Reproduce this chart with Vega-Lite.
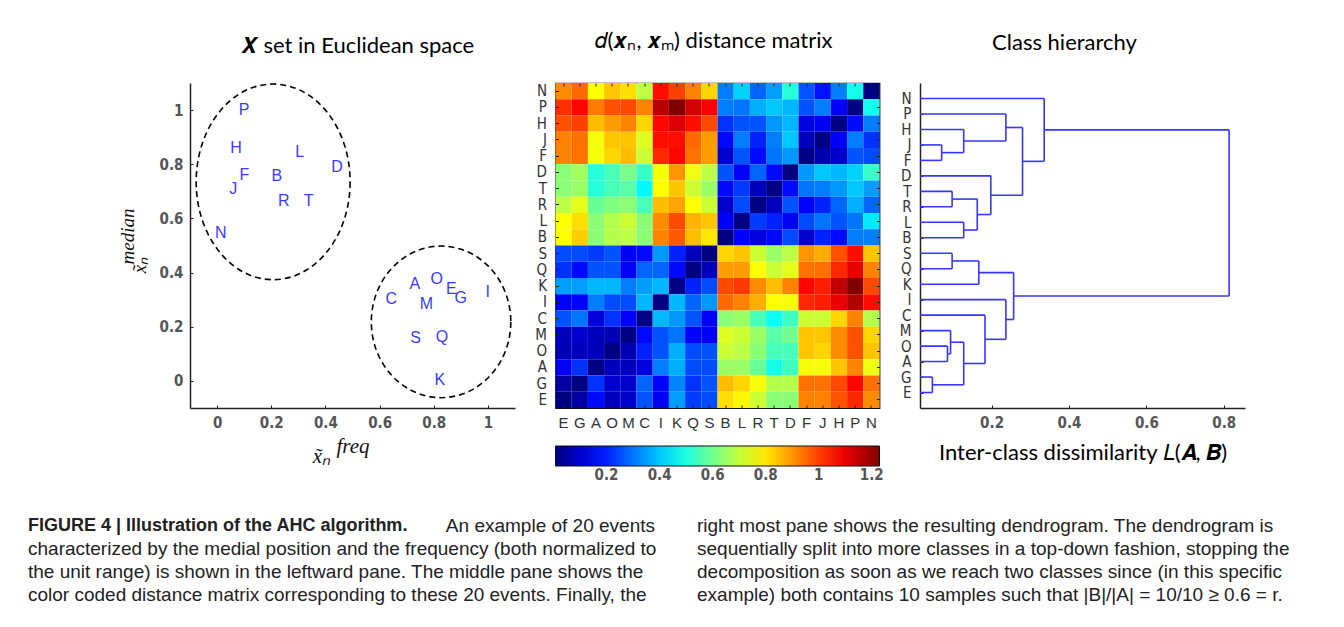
{
"$schema": "https://vega.github.io/schema/vega-lite/v6.json",
"background": "white",
"padding": {"left": 28, "top": 28, "right": 0, "bottom": 0},
"config": {
  "view": {"stroke": null},
  "font": "Liberation Sans",
  "axis": {"grid": false, "domainColor": "#222", "domainWidth": 1.5, "tickColor": "#222", "tickSize": -3, "labelFont": "DejaVu Sans Condensed, sans-serif", "labelFontSize": 15, "labelFontWeight": "bold", "labelColor": "#555", "titleFontWeight": "normal", "titleColor": "#111"},
  "title": {"font": "Lato", "fontSize": 22, "fontWeight": "normal", "color": "#000", "anchor": "middle", "baseline": "alphabetic", "offset": 28}
},
"datasets": {
  "points": [
    {"label": "P", "fx": 0.10, "fy": 1.0},
    {"label": "H", "fx": 0.07, "fy": 0.86},
    {"label": "L", "fx": 0.305, "fy": 0.845},
    {"label": "D", "fx": 0.443, "fy": 0.789},
    {"label": "F", "fx": 0.101, "fy": 0.762},
    {"label": "B", "fx": 0.221, "fy": 0.758},
    {"label": "J", "fx": 0.06, "fy": 0.709},
    {"label": "R", "fx": 0.246, "fy": 0.663},
    {"label": "T", "fx": 0.338, "fy": 0.663},
    {"label": "N", "fx": 0.014, "fy": 0.548},
    {"label": "A", "fx": 0.73, "fy": 0.357},
    {"label": "O", "fx": 0.811, "fy": 0.378},
    {"label": "E", "fx": 0.865, "fy": 0.338},
    {"label": "G", "fx": 0.9, "fy": 0.307},
    {"label": "I", "fx": 0.999, "fy": 0.328},
    {"label": "C", "fx": 0.643, "fy": 0.301},
    {"label": "M", "fx": 0.773, "fy": 0.285},
    {"label": "S", "fx": 0.733, "fy": 0.159},
    {"label": "Q", "fx": 0.83, "fy": 0.162},
    {"label": "K", "fx": 0.822, "fy": 0.005}
  ],
  "clusters": [
    {"cluster": 1, "cx": 0.207, "cy": 0.735},
    {"cluster": 2, "cx": 0.827, "cy": 0.218}
  ],
  "matrix": [
{"r":"N","c":"E","v":0.91},{"r":"N","c":"G","v":0.95},{"r":"N","c":"A","v":0.77},{"r":"N","c":"O","v":0.84},{"r":"N","c":"M","v":0.81},{"r":"N","c":"C","v":0.69},{"r":"N","c":"I","v":1.06},{"r":"N","c":"K","v":1.0},{"r":"N","c":"Q","v":0.92},{"r":"N","c":"S","v":0.82},{"r":"N","c":"B","v":0.31},{"r":"N","c":"L","v":0.41},{"r":"N","c":"R","v":0.28},{"r":"N","c":"T","v":0.35},{"r":"N","c":"D","v":0.51},{"r":"N","c":"F","v":0.26},{"r":"N","c":"J","v":0.18},{"r":"N","c":"H","v":0.31},{"r":"N","c":"P","v":0.49},{"r":"N","c":"N","v":0.01},
{"r":"P","c":"E","v":1.02},{"r":"P","c":"G","v":1.07},{"r":"P","c":"A","v":0.93},{"r":"P","c":"O","v":0.98},{"r":"P","c":"M","v":0.99},{"r":"P","c":"C","v":0.92},{"r":"P","c":"I","v":1.16},{"r":"P","c":"K","v":1.23},{"r":"P","c":"Q","v":1.13},{"r":"P","c":"S","v":1.08},{"r":"P","c":"B","v":0.31},{"r":"P","c":"L","v":0.3},{"r":"P","c":"R","v":0.37},{"r":"P","c":"T","v":0.4},{"r":"P","c":"D","v":0.38},{"r":"P","c":"F","v":0.26},{"r":"P","c":"J","v":0.31},{"r":"P","c":"H","v":0.15},{"r":"P","c":"P","v":0.01},{"r":"P","c":"N","v":0.49},
{"r":"H","c":"E","v":0.98},{"r":"H","c":"G","v":1.0},{"r":"H","c":"A","v":0.85},{"r":"H","c":"O","v":0.89},{"r":"H","c":"M","v":0.92},{"r":"H","c":"C","v":0.82},{"r":"H","c":"I","v":1.07},{"r":"H","c":"K","v":1.12},{"r":"H","c":"Q","v":1.06},{"r":"H","c":"S","v":0.99},{"r":"H","c":"B","v":0.22},{"r":"H","c":"L","v":0.26},{"r":"H","c":"R","v":0.26},{"r":"H","c":"T","v":0.34},{"r":"H","c":"D","v":0.38},{"r":"H","c":"F","v":0.12},{"r":"H","c":"J","v":0.15},{"r":"H","c":"H","v":0.01},{"r":"H","c":"P","v":0.17},{"r":"H","c":"N","v":0.31},
{"r":"J","c":"E","v":0.92},{"r":"J","c":"G","v":0.94},{"r":"J","c":"A","v":0.76},{"r":"J","c":"O","v":0.84},{"r":"J","c":"M","v":0.84},{"r":"J","c":"C","v":0.73},{"r":"J","c":"I","v":1.06},{"r":"J","c":"K","v":1.06},{"r":"J","c":"Q","v":0.95},{"r":"J","c":"S","v":0.89},{"r":"J","c":"B","v":0.17},{"r":"J","c":"L","v":0.31},{"r":"J","c":"R","v":0.2},{"r":"J","c":"T","v":0.31},{"r":"J","c":"D","v":0.4},{"r":"J","c":"F","v":0.08},{"r":"J","c":"J","v":0.01},{"r":"J","c":"H","v":0.16},{"r":"J","c":"P","v":0.31},{"r":"J","c":"N","v":0.22},
{"r":"F","c":"E","v":0.92},{"r":"F","c":"G","v":0.94},{"r":"F","c":"A","v":0.76},{"r":"F","c":"O","v":0.82},{"r":"F","c":"M","v":0.85},{"r":"F","c":"C","v":0.71},{"r":"F","c":"I","v":1.03},{"r":"F","c":"K","v":1.07},{"r":"F","c":"Q","v":0.94},{"r":"F","c":"S","v":0.89},{"r":"F","c":"B","v":0.1},{"r":"F","c":"L","v":0.26},{"r":"F","c":"R","v":0.17},{"r":"F","c":"T","v":0.3},{"r":"F","c":"D","v":0.34},{"r":"F","c":"F","v":0.01},{"r":"F","c":"J","v":0.06},{"r":"F","c":"H","v":0.1},{"r":"F","c":"P","v":0.26},{"r":"F","c":"N","v":0.25},
{"r":"D","c":"E","v":0.63},{"r":"D","c":"G","v":0.66},{"r":"D","c":"A","v":0.51},{"r":"D","c":"O","v":0.55},{"r":"D","c":"M","v":0.61},{"r":"D","c":"C","v":0.53},{"r":"D","c":"I","v":0.76},{"r":"D","c":"K","v":0.9},{"r":"D","c":"Q","v":0.75},{"r":"D","c":"S","v":0.69},{"r":"D","c":"B","v":0.26},{"r":"D","c":"L","v":0.15},{"r":"D","c":"R","v":0.28},{"r":"D","c":"T","v":0.17},{"r":"D","c":"D","v":0.01},{"r":"D","c":"F","v":0.34},{"r":"D","c":"J","v":0.4},{"r":"D","c":"H","v":0.38},{"r":"D","c":"P","v":0.41},{"r":"D","c":"N","v":0.53},
{"r":"T","c":"E","v":0.63},{"r":"T","c":"G","v":0.65},{"r":"T","c":"A","v":0.51},{"r":"T","c":"O","v":0.55},{"r":"T","c":"M","v":0.57},{"r":"T","c":"C","v":0.46},{"r":"T","c":"I","v":0.77},{"r":"T","c":"K","v":0.84},{"r":"T","c":"Q","v":0.71},{"r":"T","c":"S","v":0.65},{"r":"T","c":"B","v":0.17},{"r":"T","c":"L","v":0.23},{"r":"T","c":"R","v":0.08},{"r":"T","c":"T","v":0.01},{"r":"T","c":"D","v":0.17},{"r":"T","c":"F","v":0.3},{"r":"T","c":"J","v":0.31},{"r":"T","c":"H","v":0.34},{"r":"T","c":"P","v":0.4},{"r":"T","c":"N","v":0.35},
{"r":"R","c":"E","v":0.69},{"r":"R","c":"G","v":0.74},{"r":"R","c":"A","v":0.59},{"r":"R","c":"O","v":0.62},{"r":"R","c":"M","v":0.63},{"r":"R","c":"C","v":0.55},{"r":"R","c":"I","v":0.85},{"r":"R","c":"K","v":0.88},{"r":"R","c":"Q","v":0.77},{"r":"R","c":"S","v":0.71},{"r":"R","c":"B","v":0.1},{"r":"R","c":"L","v":0.25},{"r":"R","c":"R","v":0.01},{"r":"R","c":"T","v":0.08},{"r":"R","c":"D","v":0.26},{"r":"R","c":"F","v":0.16},{"r":"R","c":"J","v":0.2},{"r":"R","c":"H","v":0.28},{"r":"R","c":"P","v":0.37},{"r":"R","c":"N","v":0.28},
{"r":"L","c":"E","v":0.77},{"r":"L","c":"G","v":0.81},{"r":"L","c":"A","v":0.63},{"r":"L","c":"O","v":0.68},{"r":"L","c":"M","v":0.71},{"r":"L","c":"C","v":0.63},{"r":"L","c":"I","v":0.91},{"r":"L","c":"K","v":0.99},{"r":"L","c":"Q","v":0.86},{"r":"L","c":"S","v":0.84},{"r":"L","c":"B","v":0.15},{"r":"L","c":"L","v":0.01},{"r":"L","c":"R","v":0.23},{"r":"L","c":"T","v":0.2},{"r":"L","c":"D","v":0.15},{"r":"L","c":"F","v":0.25},{"r":"L","c":"J","v":0.3},{"r":"L","c":"H","v":0.26},{"r":"L","c":"P","v":0.3},{"r":"L","c":"N","v":0.44},
{"r":"B","c":"E","v":0.77},{"r":"B","c":"G","v":0.83},{"r":"B","c":"A","v":0.63},{"r":"B","c":"O","v":0.68},{"r":"B","c":"M","v":0.69},{"r":"B","c":"C","v":0.63},{"r":"B","c":"I","v":0.92},{"r":"B","c":"K","v":0.97},{"r":"B","c":"Q","v":0.85},{"r":"B","c":"S","v":0.8},{"r":"B","c":"B","v":0.01},{"r":"B","c":"L","v":0.16},{"r":"B","c":"R","v":0.12},{"r":"B","c":"T","v":0.17},{"r":"B","c":"D","v":0.25},{"r":"B","c":"F","v":0.1},{"r":"B","c":"J","v":0.2},{"r":"B","c":"H","v":0.17},{"r":"B","c":"P","v":0.31},{"r":"B","c":"N","v":0.31},
{"r":"S","c":"E","v":0.25},{"r":"S","c":"G","v":0.25},{"r":"S","c":"A","v":0.23},{"r":"S","c":"O","v":0.26},{"r":"S","c":"M","v":0.15},{"r":"S","c":"C","v":0.17},{"r":"S","c":"I","v":0.34},{"r":"S","c":"K","v":0.2},{"r":"S","c":"Q","v":0.08},{"r":"S","c":"S","v":0.01},{"r":"S","c":"B","v":0.82},{"r":"S","c":"L","v":0.84},{"r":"S","c":"R","v":0.71},{"r":"S","c":"T","v":0.65},{"r":"S","c":"D","v":0.69},{"r":"S","c":"F","v":0.9},{"r":"S","c":"J","v":0.87},{"r":"S","c":"H","v":0.98},{"r":"S","c":"P","v":1.06},{"r":"S","c":"N","v":0.84},
{"r":"Q","c":"E","v":0.22},{"r":"Q","c":"G","v":0.17},{"r":"Q","c":"A","v":0.26},{"r":"Q","c":"O","v":0.26},{"r":"Q","c":"M","v":0.15},{"r":"Q","c":"C","v":0.28},{"r":"Q","c":"I","v":0.28},{"r":"Q","c":"K","v":0.17},{"r":"Q","c":"Q","v":0.01},{"r":"Q","c":"S","v":0.08},{"r":"Q","c":"B","v":0.89},{"r":"Q","c":"L","v":0.89},{"r":"Q","c":"R","v":0.77},{"r":"Q","c":"T","v":0.71},{"r":"Q","c":"D","v":0.74},{"r":"Q","c":"F","v":0.94},{"r":"Q","c":"J","v":0.94},{"r":"Q","c":"H","v":1.03},{"r":"Q","c":"P","v":1.1},{"r":"Q","c":"N","v":0.92},
{"r":"K","c":"E","v":0.35},{"r":"K","c":"G","v":0.35},{"r":"K","c":"A","v":0.38},{"r":"K","c":"O","v":0.38},{"r":"K","c":"M","v":0.31},{"r":"K","c":"C","v":0.35},{"r":"K","c":"I","v":0.38},{"r":"K","c":"K","v":0.01},{"r":"K","c":"Q","v":0.2},{"r":"K","c":"S","v":0.25},{"r":"K","c":"B","v":0.99},{"r":"K","c":"L","v":1.01},{"r":"K","c":"R","v":0.91},{"r":"K","c":"T","v":0.85},{"r":"K","c":"D","v":0.92},{"r":"K","c":"F","v":1.07},{"r":"K","c":"J","v":1.04},{"r":"K","c":"H","v":1.15},{"r":"K","c":"P","v":1.23},{"r":"K","c":"N","v":0.99},
{"r":"I","c":"E","v":0.15},{"r":"I","c":"G","v":0.16},{"r":"I","c":"A","v":0.31},{"r":"I","c":"O","v":0.25},{"r":"I","c":"M","v":0.25},{"r":"I","c":"C","v":0.38},{"r":"I","c":"I","v":0.01},{"r":"I","c":"K","v":0.38},{"r":"I","c":"Q","v":0.28},{"r":"I","c":"S","v":0.34},{"r":"I","c":"B","v":0.95},{"r":"I","c":"L","v":0.92},{"r":"I","c":"R","v":0.87},{"r":"I","c":"T","v":0.77},{"r":"I","c":"D","v":0.76},{"r":"I","c":"F","v":1.03},{"r":"I","c":"J","v":1.04},{"r":"I","c":"H","v":1.1},{"r":"I","c":"P","v":1.17},{"r":"I","c":"N","v":1.06},
{"r":"C","c":"E","v":0.26},{"r":"C","c":"G","v":0.3},{"r":"C","c":"A","v":0.12},{"r":"C","c":"O","v":0.22},{"r":"C","c":"M","v":0.16},{"r":"C","c":"C","v":0.01},{"r":"C","c":"I","v":0.38},{"r":"C","c":"K","v":0.34},{"r":"C","c":"Q","v":0.26},{"r":"C","c":"S","v":0.16},{"r":"C","c":"B","v":0.63},{"r":"C","c":"L","v":0.65},{"r":"C","c":"R","v":0.55},{"r":"C","c":"T","v":0.48},{"r":"C","c":"D","v":0.54},{"r":"C","c":"F","v":0.71},{"r":"C","c":"J","v":0.71},{"r":"C","c":"H","v":0.82},{"r":"C","c":"P","v":0.92},{"r":"C","c":"N","v":0.68},
{"r":"M","c":"E","v":0.08},{"r":"M","c":"G","v":0.1},{"r":"M","c":"A","v":0.08},{"r":"M","c":"O","v":0.07},{"r":"M","c":"M","v":0.01},{"r":"M","c":"C","v":0.17},{"r":"M","c":"I","v":0.26},{"r":"M","c":"K","v":0.3},{"r":"M","c":"Q","v":0.16},{"r":"M","c":"S","v":0.16},{"r":"M","c":"B","v":0.73},{"r":"M","c":"L","v":0.71},{"r":"M","c":"R","v":0.65},{"r":"M","c":"T","v":0.57},{"r":"M","c":"D","v":0.6},{"r":"M","c":"F","v":0.84},{"r":"M","c":"J","v":0.84},{"r":"M","c":"H","v":0.91},{"r":"M","c":"P","v":0.98},{"r":"M","c":"N","v":0.82},
{"r":"O","c":"E","v":0.07},{"r":"O","c":"G","v":0.08},{"r":"O","c":"A","v":0.08},{"r":"O","c":"O","v":0.01},{"r":"O","c":"M","v":0.07},{"r":"O","c":"C","v":0.2},{"r":"O","c":"I","v":0.26},{"r":"O","c":"K","v":0.37},{"r":"O","c":"Q","v":0.25},{"r":"O","c":"S","v":0.26},{"r":"O","c":"B","v":0.71},{"r":"O","c":"L","v":0.69},{"r":"O","c":"R","v":0.63},{"r":"O","c":"T","v":0.55},{"r":"O","c":"D","v":0.55},{"r":"O","c":"F","v":0.84},{"r":"O","c":"J","v":0.82},{"r":"O","c":"H","v":0.91},{"r":"O","c":"P","v":0.98},{"r":"O","c":"N","v":0.84},
{"r":"A","c":"E","v":0.15},{"r":"A","c":"G","v":0.22},{"r":"A","c":"A","v":0.01},{"r":"A","c":"O","v":0.08},{"r":"A","c":"M","v":0.08},{"r":"A","c":"C","v":0.12},{"r":"A","c":"I","v":0.31},{"r":"A","c":"K","v":0.37},{"r":"A","c":"Q","v":0.25},{"r":"A","c":"S","v":0.25},{"r":"A","c":"B","v":0.65},{"r":"A","c":"L","v":0.65},{"r":"A","c":"R","v":0.59},{"r":"A","c":"T","v":0.49},{"r":"A","c":"D","v":0.54},{"r":"A","c":"F","v":0.76},{"r":"A","c":"J","v":0.76},{"r":"A","c":"H","v":0.84},{"r":"A","c":"P","v":0.92},{"r":"A","c":"N","v":0.75},
{"r":"G","c":"E","v":0.05},{"r":"G","c":"G","v":0.01},{"r":"G","c":"A","v":0.22},{"r":"G","c":"O","v":0.1},{"r":"G","c":"M","v":0.1},{"r":"G","c":"C","v":0.28},{"r":"G","c":"I","v":0.16},{"r":"G","c":"K","v":0.32},{"r":"G","c":"Q","v":0.22},{"r":"G","c":"S","v":0.26},{"r":"G","c":"B","v":0.85},{"r":"G","c":"L","v":0.82},{"r":"G","c":"R","v":0.76},{"r":"G","c":"T","v":0.68},{"r":"G","c":"D","v":0.68},{"r":"G","c":"F","v":0.94},{"r":"G","c":"J","v":0.94},{"r":"G","c":"H","v":0.99},{"r":"G","c":"P","v":1.07},{"r":"G","c":"N","v":0.94},
{"r":"E","c":"E","v":0.01},{"r":"E","c":"G","v":0.05},{"r":"E","c":"A","v":0.17},{"r":"E","c":"O","v":0.08},{"r":"E","c":"M","v":0.1},{"r":"E","c":"C","v":0.26},{"r":"E","c":"I","v":0.15},{"r":"E","c":"K","v":0.35},{"r":"E","c":"Q","v":0.23},{"r":"E","c":"S","v":0.25},{"r":"E","c":"B","v":0.81},{"r":"E","c":"L","v":0.78},{"r":"E","c":"R","v":0.71},{"r":"E","c":"T","v":0.63},{"r":"E","c":"D","v":0.63},{"r":"E","c":"F","v":0.92},{"r":"E","c":"J","v":0.92},{"r":"E","c":"H","v":0.98},{"r":"E","c":"P","v":1.03},{"r":"E","c":"N","v":0.91}
  ],
  "dendro": [
    {"x":0,"x2":0.071,"y":17,"y2":17},{"x":0,"x2":0.071,"y":16,"y2":16},{"x":0.071,"x2":0.071,"y":16,"y2":17},
    {"x":0,"x2":0.128,"y":18,"y2":18},{"x":0.071,"x2":0.128,"y":16.5,"y2":16.5},{"x":0.128,"x2":0.128,"y":16.5,"y2":18},
    {"x":0,"x2":0.237,"y":19,"y2":19},{"x":0.128,"x2":0.237,"y":17.25,"y2":17.25},{"x":0.237,"x2":0.237,"y":17.25,"y2":19},
    {"x":0,"x2":0.098,"y":14,"y2":14},{"x":0,"x2":0.098,"y":13,"y2":13},{"x":0.098,"x2":0.098,"y":13,"y2":14},
    {"x":0,"x2":0.128,"y":12,"y2":12},{"x":0,"x2":0.128,"y":11,"y2":11},{"x":0.128,"x2":0.128,"y":11,"y2":12},
    {"x":0.098,"x2":0.163,"y":13.5,"y2":13.5},{"x":0.128,"x2":0.163,"y":11.5,"y2":11.5},{"x":0.163,"x2":0.163,"y":11.5,"y2":13.5},
    {"x":0,"x2":0.198,"y":15,"y2":15},{"x":0.163,"x2":0.198,"y":12.5,"y2":12.5},{"x":0.198,"x2":0.198,"y":12.5,"y2":15},
    {"x":0.237,"x2":0.28,"y":18.125,"y2":18.125},{"x":0.198,"x2":0.28,"y":13.75,"y2":13.75},{"x":0.28,"x2":0.28,"y":13.75,"y2":18.125},
    {"x":0,"x2":0.336,"y":20,"y2":20},{"x":0.28,"x2":0.336,"y":15.9375,"y2":15.9375},{"x":0.336,"x2":0.336,"y":15.9375,"y2":20},
    {"x":0,"x2":0.098,"y":10,"y2":10},{"x":0,"x2":0.098,"y":9,"y2":9},{"x":0.098,"x2":0.098,"y":9,"y2":10},
    {"x":0,"x2":0.167,"y":8,"y2":8},{"x":0.098,"x2":0.167,"y":9.5,"y2":9.5},{"x":0.167,"x2":0.167,"y":8,"y2":9.5},
    {"x":0,"x2":0.086,"y":4,"y2":4},{"x":0,"x2":0.086,"y":3,"y2":3},{"x":0.086,"x2":0.086,"y":3,"y2":4},
    {"x":0,"x2":0.094,"y":5,"y2":5},{"x":0.086,"x2":0.094,"y":3.5,"y2":3.5},{"x":0.094,"x2":0.094,"y":3.5,"y2":5},
    {"x":0,"x2":0.047,"y":2,"y2":2},{"x":0,"x2":0.047,"y":1,"y2":1},{"x":0.047,"x2":0.047,"y":1,"y2":2},
    {"x":0.094,"x2":0.128,"y":4.25,"y2":4.25},{"x":0.047,"x2":0.128,"y":1.5,"y2":1.5},{"x":0.128,"x2":0.128,"y":1.5,"y2":4.25},
    {"x":0,"x2":0.183,"y":6,"y2":6},{"x":0.128,"x2":0.183,"y":2.875,"y2":2.875},{"x":0.183,"x2":0.183,"y":2.875,"y2":6},
    {"x":0,"x2":0.237,"y":7,"y2":7},{"x":0.183,"x2":0.237,"y":4.4375,"y2":4.4375},{"x":0.237,"x2":0.237,"y":4.4375,"y2":7},
    {"x":0.167,"x2":0.257,"y":8.75,"y2":8.75},{"x":0.237,"x2":0.257,"y":5.71875,"y2":5.71875},{"x":0.257,"x2":0.257,"y":5.71875,"y2":8.75},
    {"x":0.336,"x2":0.814,"y":17.96875,"y2":17.96875},{"x":0.257,"x2":0.814,"y":7.234375,"y2":7.234375},{"x":0.814,"x2":0.814,"y":7.234375,"y2":17.96875}
  ],
  "caption": [
    {"col": 0, "line": 1, "part": "bold", "text": "FIGURE 4 | Illustration of the AHC algorithm."},
    {"col": 0, "line": 1, "part": "tail", "text": "An example of 20 events"},
    {"col": 0, "line": 2, "part": "plain", "text": "characterized by the medial position and the frequency (both normalized to"},
    {"col": 0, "line": 3, "part": "plain", "text": "the unit range) is shown in the leftward pane. The middle pane shows the"},
    {"col": 0, "line": 4, "part": "plain", "text": "color coded distance matrix corresponding to these 20 events. Finally, the"},
    {"col": 1, "line": 1, "part": "plain", "text": "right most pane shows the resulting dendrogram. The dendrogram is"},
    {"col": 1, "line": 2, "part": "plain", "text": "sequentially split into more classes in a top-down fashion, stopping the"},
    {"col": 1, "line": 3, "part": "plain", "text": "decomposition as soon as we reach two classes since (in this specific"},
    {"col": 1, "line": 4, "part": "plain", "text": "example) both contains 10 samples such that |B|/|A| = 10/10 ≥ 0.6 = r."}
  ]
},
"resolve": {"scale": {"color": "independent"}, "legend": {"color": "independent"}},
"vconcat": [
  {
    "bounds": "flush",
    "spacing": 40.5,
    "resolve": {"scale": {"color": "independent"}, "legend": {"color": "independent"}},
    "hconcat": [
      {
        "width": 325, "height": 325,
        "title": {"text": "𝑿 set in Euclidean space", "dx": 5, "offset": 23},
        "layer": [
          {
            "data": {"name": "points"},
            "mark": {"type": "text", "font": "Liberation Sans", "fontSize": 16, "color": "#3a3aff"},
            "encoding": {
              "x": {"field": "fx", "type": "quantitative", "scale": {"domain": [-0.1, 1.1], "nice": false}, "axis": {"values": [0, 0.2, 0.4, 0.6, 0.8, 1], "format": "~g", "labelPadding": 10, "title": ["\u200b\u2003freq\u2003\u200b", "x̃ₙ\u2003\u2003\u2003\u200b"], "titleFont": "Liberation Serif", "titleFontStyle": "italic", "titleFontSize": 21, "titleLineHeight": 10, "titlePadding": 5}},
              "y": {"field": "fy", "type": "quantitative", "scale": {"domain": [-0.1, 1.1], "nice": false}, "axis": {"values": [0, 0.2, 0.4, 0.6, 0.8, 1], "format": "~g", "labelPadding": 10, "title": ["\u200b\u2003median", "x̃ₙ\u2003\u2003\u200b"], "titleFont": "Liberation Serif", "titleFontStyle": "italic", "titleFontSize": 19, "titleLineHeight": 12, "titlePadding": 10}},
              "text": {"field": "label"}
            }
          },
          {
            "data": {"name": "clusters"},
            "transform": [{"filter": "datum.cluster == 1"}],
            "mark": {"type": "point", "shape": "M0.787,0C0.787,0.5523,0.4347,1,0,1C-0.4347,1,-0.787,0.5523,-0.787,0C-0.787,-0.5523,-0.4347,-1,0,-1C0.4347,-1,0.787,-0.5523,0.787,0Z", "size": 38260, "filled": false, "stroke": "#000", "strokeWidth": 1.6, "strokeDash": [6, 4], "opacity": 1},
            "encoding": {"x": {"field": "cx", "type": "quantitative"}, "y": {"field": "cy", "type": "quantitative"}}
          },
          {
            "data": {"name": "clusters"},
            "transform": [{"filter": "datum.cluster == 2"}],
            "mark": {"type": "point", "shape": "M0.92,0C0.92,0.5523,0.5081,1,0,1C-0.5081,1,-0.92,0.5523,-0.92,0C-0.92,-0.5523,-0.5081,-1,0,-1C0.5081,-1,0.92,-0.5523,0.92,0Z", "size": 22983, "filled": false, "stroke": "#000", "strokeWidth": 1.6, "strokeDash": [6, 4], "opacity": 1},
            "encoding": {"x": {"field": "cx", "type": "quantitative"}, "y": {"field": "cy", "type": "quantitative"}}
          }
        ]
      },
      {
        "width": 324, "height": 325,
        "title": {"text": "𝑑(𝒙ₙ, 𝒙ₘ) distance matrix", "dx": -4, "offset": 30},
        "view": {"stroke": "#111", "strokeWidth": 1.2},
        "data": {"name": "matrix"},
        "layer": [
          {
            "mark": {"type": "rect"},
            "encoding": {
              "x": {"field": "c", "type": "nominal", "sort": ["E","G","A","O","M","C","I","K","Q","S","B","L","R","T","D","F","J","H","P","N"], "scale": {"paddingInner": 0, "paddingOuter": 0}, "axis": {"title": null, "labelAngle": 0, "labelFont": "Liberation Sans", "labelFontWeight": "normal", "labelFontSize": 15, "labelColor": "#333", "labelPadding": 10, "domain": false}},
              "y": {"field": "r", "type": "nominal", "sort": ["N","P","H","J","F","D","T","R","L","B","S","Q","K","I","C","M","O","A","G","E"], "scale": {"paddingInner": 0, "paddingOuter": 0}, "axis": {"title": null, "labelFont": "DejaVu Sans Condensed, sans-serif", "labelFontWeight": "normal", "labelFontSize": 15, "labelColor": "#333", "labelPadding": 12, "domain": false}},
              "color": {"field": "v", "type": "quantitative", "scale": {"domain": [0.0075, 1.229], "range": ["#000080","#0000ff","#0080ff","#00ffff","#80ff80","#ffff00","#ff8000","#ff0000","#800000"], "interpolate": "rgb", "clamp": true}, "legend": {"orient": "bottom", "direction": "horizontal", "title": null, "gradientLength": 324, "gradientThickness": 20, "values": [0.2, 0.4, 0.6, 0.8, 1, 1.2], "format": "~g", "labelFont": "DejaVu Sans Condensed, sans-serif", "labelFontSize": 15, "labelFontWeight": "bold", "labelColor": "#555", "gradientStrokeColor": "#111", "gradientStrokeWidth": 1, "offset": 16, "labelOverlap": false}}
            }
          },
          {
            "mark": {"type": "rect", "opacity": 0},
            "encoding": {
              "x": {"field": "c", "type": "nominal", "sort": ["E","G","A","O","M","C","I","K","Q","S","B","L","R","T","D","F","J","H","P","N"], "scale": {"paddingInner": 0, "paddingOuter": 0}, "axis": {"orient": "top", "labels": false, "title": null, "domain": false}},
              "y": {"field": "r", "type": "nominal", "sort": ["N","P","H","J","F","D","T","R","L","B","S","Q","K","I","C","M","O","A","G","E"], "scale": {"paddingInner": 0, "paddingOuter": 0}, "axis": {"orient": "right", "labels": false, "title": null, "domain": false}}
            }
          }
        ],
        "resolve": {"axis": {"x": "independent", "y": "independent"}}
      },
      {
        "width": 325, "height": 325,
        "title": {"text": "Class hierarchy", "dx": -18},
        "data": {"name": "dendro"},
        "mark": {"type": "rule", "color": "#3636ff", "strokeWidth": 1.6, "clip": true},
        "encoding": {
          "x": {"field": "x", "type": "quantitative", "scale": {"domain": [0.015, 0.855], "nice": false, "zero": false}, "axis": {"values": [0.2, 0.4, 0.6, 0.8], "format": "~g", "labelPadding": 10, "title": "Inter-class dissimilarity 𝐿(𝑨, 𝑩)", "titleFont": "Lato", "titleFontSize": 22, "titleColor": "#000", "titlePadding": 12}},
          "x2": {"field": "x2"},
          "y": {"field": "y", "type": "quantitative", "scale": {"domain": [0, 21], "nice": false, "zero": false}, "axis": {"values": [1,2,3,4,5,6,7,8,9,10,11,12,13,14,15,16,17,18,19,20], "labelExpr": "['E','G','A','O','M','C','I','K','Q','S','B','L','R','T','D','F','J','H','P','N'][datum.value - 1]", "labelFont": "DejaVu Sans Condensed, sans-serif", "labelFontWeight": "normal", "labelFontSize": 15, "labelColor": "#333", "labelPadding": 12, "title": null}},
          "y2": {"field": "y2"}
        }
      }
    ]
  },
  {
    "width": 669, "height": 92,
    "data": {"name": "caption"},
    "encoding": {
      "x": {"field": "col", "type": "quantitative", "scale": {"domain": [0, 1], "nice": false, "zero": false}, "axis": null},
      "y": {"field": "line", "type": "quantitative", "scale": {"domain": [0.5, 4.5], "reverse": true, "nice": false, "zero": false}, "axis": null},
      "text": {"field": "text"}
    },
    "layer": [
      {"transform": [{"filter": "datum.part == 'plain'"}], "mark": {"type": "text", "align": "left", "baseline": "middle", "font": "Liberation Sans", "fontSize": 19, "color": "#222", "dx": -162}},
      {"transform": [{"filter": "datum.part == 'bold'"}], "mark": {"type": "text", "align": "left", "baseline": "middle", "font": "Liberation Sans", "fontSize": 18, "fontWeight": "bold", "color": "#222", "dx": -162}},
      {"transform": [{"filter": "datum.part == 'tail'"}], "mark": {"type": "text", "align": "right", "baseline": "middle", "font": "Liberation Sans", "fontSize": 19, "color": "#222", "dx": 465}}
    ]
  }
],
"spacing": 30
}
